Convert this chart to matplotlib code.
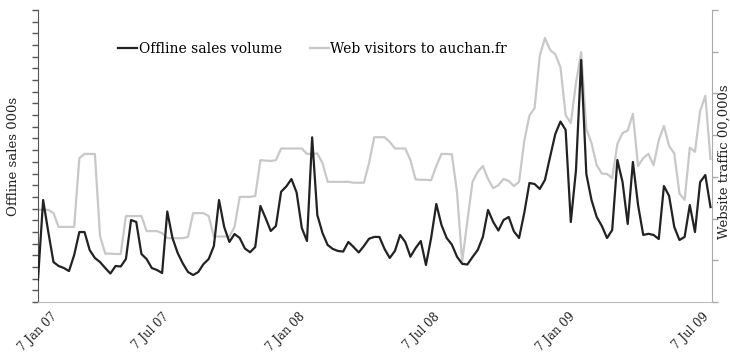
import pandas as pd
import matplotlib
matplotlib.use("Agg")
import matplotlib.pyplot as plt

# weekly series, Jan 2007 - Jul 2009
start = "2007-01-07"
sales = [18.8, 87.3, 59.9, 34.2, 30.8, 29.1, 26.5, 40.2, 59.9, 59.9,
         44.5, 37.7, 34.2, 29.1, 24.4, 30.8, 30.4, 36.8, 70.2, 68.5,
         41.1, 36.8, 29.1, 27.4, 24.8, 77.5, 54.8, 42.0, 33.0, 25.7,
         23.1, 25.7, 32.5, 36.8, 47.9, 87.3, 64.2, 51.4, 58.2, 54.8,
         45.8, 42.6, 47.1, 82.2, 71.9, 60.8, 65.1, 94.4, 98.9, 105.3,
         93.7, 63.4, 52.2, 141.0, 74.5, 59.1, 48.8, 45.4, 43.7, 43.2,
         51.4, 47.1, 42.4, 47.9, 54.2, 55.7, 55.7, 45.4, 37.7, 43.7,
         57.4, 51.4, 38.8, 46.2, 52.2, 31.7, 54.8, 83.9, 65.9, 54.8,
         49.2, 38.8, 32.7, 32.1, 38.5, 44.5, 55.7, 78.8, 68.5, 61.2,
         70.2, 72.8, 60.4, 54.8, 76.2, 101.9, 101.0, 96.8, 104.5, 124.4,
         143.8, 154.5, 147.3, 68.5, 113.0, 207.2, 109.6, 87.3, 72.8, 65.1,
         54.8, 61.6, 121.6, 102.7, 66.8, 119.9, 83.0, 57.4, 58.4, 57.4,
         53.9, 99.3, 90.8, 64.2, 53.1, 55.7, 83.0, 59.9, 102.7, 108.7,
         81.3]
visitors = [22.1, 22.1, 22.1, 21.3, 18.0, 18.0, 18.0, 18.0, 34.5, 35.5,
            35.5, 35.5, 15.8, 11.6, 11.6, 11.5, 11.5, 20.6, 20.6, 20.6,
            20.6, 17.0, 17.0, 17.0, 16.5, 15.3, 15.3, 15.3, 15.3, 15.6,
            21.3, 21.3, 21.3, 20.6, 15.7, 15.7, 15.7, 15.7, 18.0, 25.2,
            25.2, 25.2, 25.4, 34.0, 33.9, 33.8, 34.0, 36.8, 36.8, 36.8,
            36.8, 36.8, 35.5, 35.5, 35.6, 33.3, 28.8, 28.8, 28.8, 28.8,
            28.8, 28.6, 28.6, 28.6, 33.3, 39.5, 39.5, 39.5, 38.4, 36.8,
            36.8, 36.8, 34.0, 29.4, 29.3, 29.3, 29.2, 32.6, 35.5, 35.5,
            35.4, 26.4, 9.6, 19.4, 28.8, 31.2, 32.6, 29.5, 27.3, 28.0,
            29.5, 29.0, 27.8, 28.8, 38.6, 44.7, 46.5, 59.0, 63.3, 60.4,
            59.4, 56.3, 44.8, 42.9, 52.5, 59.9, 41.5, 38.1, 32.8, 30.8,
            30.7, 29.7, 37.9, 40.5, 41.1, 45.1, 32.6, 34.5, 35.5, 32.8,
            38.8, 42.2, 37.4, 35.6, 26.0, 24.5, 37.0, 36.0, 45.8, 49.4,
            34.3]
tick_dates = ["2007-01-07", "2007-07-07", "2008-01-07",
              "2008-07-07", "2009-01-07", "2009-07-07"]
tick_labels = ["7 Jan 07", "7 Jul 07", "7 Jan 08", "7 Jul 08", "7 Jan 09", "7 Jul 09"]

weeks = pd.date_range(start, periods=len(sales), freq="7D")

plt.rcParams["font.family"] = ["DejaVu Serif"]

fig = plt.figure(figsize=(7.3, 3.55), dpi=100)
ax = fig.add_axes([0.052, 0.1493, 0.9233, 0.8225])
ax2 = ax.twinx()

l1, = ax.plot(weeks, sales, color="#222222", lw=1.6, zorder=3)
l2, = ax2.plot(weeks, visitors, color="#c8c8c8", lw=1.6)
ax.set_zorder(ax2.get_zorder() + 1)
ax.patch.set_visible(False)

ax.set_xlim(pd.Timestamp("2007-01-07"), pd.Timestamp("2009-07-07"))
ax.set_ylim(0, 250)
ax2.set_ylim(0, 70)
ax.set_yticks(range(0, 251, 10))
ax2.set_yticks(range(0, 71, 10))
ax.set_yticklabels([])
ax2.set_yticklabels([])

# date labels end at their tick; the first one is centred so it stays on the page
ax.set_xticks(pd.to_datetime(tick_dates))
ax.set_xticklabels(tick_labels, rotation=45, ha="right", fontsize=8.5, color="#222222")
ax.get_xticklabels()[0].set_ha("center")
ax.tick_params(axis="x", length=0, pad=6)
ax.tick_params(axis="y", length=4, width=1, color="#555555", direction="out")
ax2.tick_params(axis="y", length=4, width=1, color="#aaaaaa", direction="out")

for a in (ax, ax2):
    a.spines["top"].set_visible(False)
ax.spines["left"].set_color("#555555")
ax.spines["bottom"].set_color("#bbbbbb")
ax.spines["right"].set_visible(False)
ax2.spines["left"].set_visible(False)
ax2.spines["bottom"].set_visible(False)
ax2.spines["right"].set_color("#aaaaaa")

ax.set_ylabel("Offline sales 000s", fontsize=9.5, color="#222222")
ax.yaxis.set_label_coords(-0.027, 0.5)
ax2.set_ylabel("Website traffic 00,000s", fontsize=9.5, color="#222222", rotation=90)
ax2.yaxis.set_label_coords(1.008, 0.48)

ax.legend([l1, l2], ["Offline sales volume", "Web visitors to auchan.fr"],
          loc="center left", bbox_to_anchor=(0.1, 0.866), ncol=2, frameon=False,
          handlelength=1.4, handletextpad=0.1, columnspacing=2.0, fontsize=10)

fig.savefig("out.png", dpi=100)
